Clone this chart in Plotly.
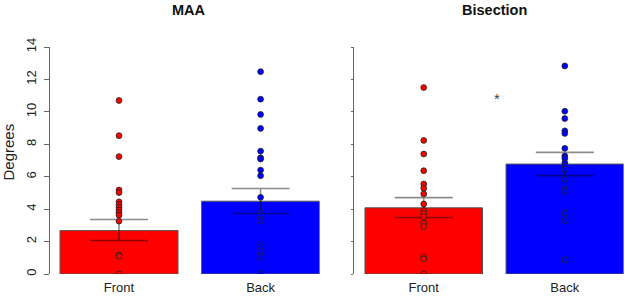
import plotly.graph_objects as go

categories = ["Front", "Back"]
bar_pos = [0.7, 1.9]

maa_mean = [2.68, 4.49]
maa_upper = [3.36, 5.27]
maa_lower = [2.07, 3.73]
bis_mean = [4.08, 6.78]
bis_upper = [4.71, 7.50]
bis_lower = [3.48, 6.07]

maa_front_pts = [10.7, 8.53, 7.24, 5.18, 5.02, 4.45, 4.28, 4.12, 3.95, 3.79, 3.63, 3.26, 1.17, 1.1, 0]
maa_back_pts = [12.48, 10.78, 9.84, 8.98, 7.58, 7.17, 7.09, 6.41, 6.06, 4.73, 3.79, 3.63, 3.28, 1.70, 1.19, 1.05, 0]
bis_front_pts = [11.5, 8.24, 7.40, 6.37, 5.55, 5.29, 4.94, 4.32, 3.91, 3.75, 3.54, 3.14, 2.93, 1.05, 0.92, 0]
bis_back_pts = [12.83, 10.04, 9.59, 8.83, 8.67, 7.75, 7.28, 7.13, 6.86, 6.66, 6.48, 5.84, 5.25, 5.10, 3.75, 3.30, 0.88]

bar_colors = ["#ff0000", "#0000ff"]
FONT = "Liberation Sans, Arial, sans-serif"

fig = go.Figure()

def add_panel(xa, ya, means, upper, lower, front_pts, back_pts):
    fig.add_trace(go.Bar(
        x=bar_pos, y=means, width=1.0,
        marker=dict(color=bar_colors, line=dict(color="#555555", width=1)),
        error_y=dict(type="data",
                     array=[u - m for u, m in zip(upper, means)],
                     arrayminus=[m - l for m, l in zip(means, lower)],
                     color="rgba(0,0,0,0.45)", thickness=1.6, width=29),
        xaxis=xa, yaxis=ya, showlegend=False, hoverinfo="skip"))
    for pos, pts, col in zip(bar_pos, [front_pts, back_pts], bar_colors):
        fig.add_trace(go.Scatter(
            x=[pos] * len(pts), y=pts, mode="markers",
            marker=dict(color=col, size=5.8, line=dict(color="#222222", width=0.8)),
            xaxis=xa, yaxis=ya, showlegend=False, hoverinfo="skip"))

add_panel("x", "y", maa_mean, maa_upper, maa_lower, maa_front_pts, maa_back_pts)
add_panel("x2", "y2", bis_mean, bis_upper, bis_lower, bis_front_pts, bis_back_pts)

W, H = 625, 297
top_px, bot_px = 46.7, 274.3
left_px = 50
ml, mr = left_px, 0
mt, mb = top_px, H - bot_px
pw = W - ml - mr
ph = bot_px - top_px

def px_x(p):
    return (p - ml) / pw

def px_y(p):
    return (bot_px - p) / ph

common_x = dict(tickmode="array", tickvals=bar_pos, ticktext=categories,
                showline=False, ticks="", showgrid=False, zeroline=False,
                automargin=False, ticklabelstandoff=4,
                tickfont=dict(family=FONT, size=13, color="#222222"))
fig.update_layout(
    width=W, height=H,
    margin=dict(l=ml, r=mr, t=mt, b=mb, autoexpand=False),
    paper_bgcolor="white", plot_bgcolor="white",
    bargap=0,
    xaxis=dict(domain=[px_x(50), px_x(319.6)], range=[0.2 - 10 / 118, 2.4], **common_x),
    xaxis2=dict(domain=[px_x(354), px_x(623.6)],
                range=[0.2 - 11 / 118, 2.4], anchor="y2", **common_x),
    yaxis=dict(range=[0, 14], tickvals=[0, 2, 4, 6, 8, 10, 12, 14],
               showline=True, linecolor="#666666", linewidth=1,
               ticks="outside", ticklen=5, tickcolor="#666666",
               tickangle=-90, showgrid=False, zeroline=False, automargin=False,
               ticklabelstandoff=3,
               tickfont=dict(family=FONT, size=13, color="#222222")),
    yaxis2=dict(range=[0, 14], tickvals=[0, 2, 4, 6, 8, 10, 12, 14],
                anchor="x2", showline=True, linecolor="#666666", linewidth=1,
                ticks="outside", ticklen=2, tickcolor="#666666", automargin=False,
                showticklabels=False, showgrid=False, zeroline=False),
)

annos = [
    dict(text="<b>MAA</b>", x=px_x(189), y=px_y(10),
         xref="paper", yref="paper", showarrow=False,
         font=dict(family=FONT, size=14.5, color="#111111"),
         xanchor="center", yanchor="middle"),
    dict(text="<b>Bisection</b>", x=px_x(494), y=px_y(10),
         xref="paper", yref="paper", showarrow=False,
         font=dict(family=FONT, size=14.5, color="#111111"),
         xanchor="center", yanchor="middle"),
    dict(text="Degrees", x=px_x(9), y=px_y(152.5),
         xref="paper", yref="paper", showarrow=False, textangle=-90,
         font=dict(family=FONT, size=15, color="#222222"),
         xanchor="center", yanchor="middle"),
    dict(text="*", x=0.107 + (497 - 354) / 118, y=10.85, xref="x2", yref="y2",
         showarrow=False, font=dict(family=FONT, size=15, color="#444444"),
         xanchor="center", yanchor="middle"),
]
fig.update_layout(annotations=annos)

fig.write_html("out.html", config={"displayModeBar": False, "staticPlot": True},
               post_script="document.body.style.margin='0';document.body.style.overflow='hidden';")
